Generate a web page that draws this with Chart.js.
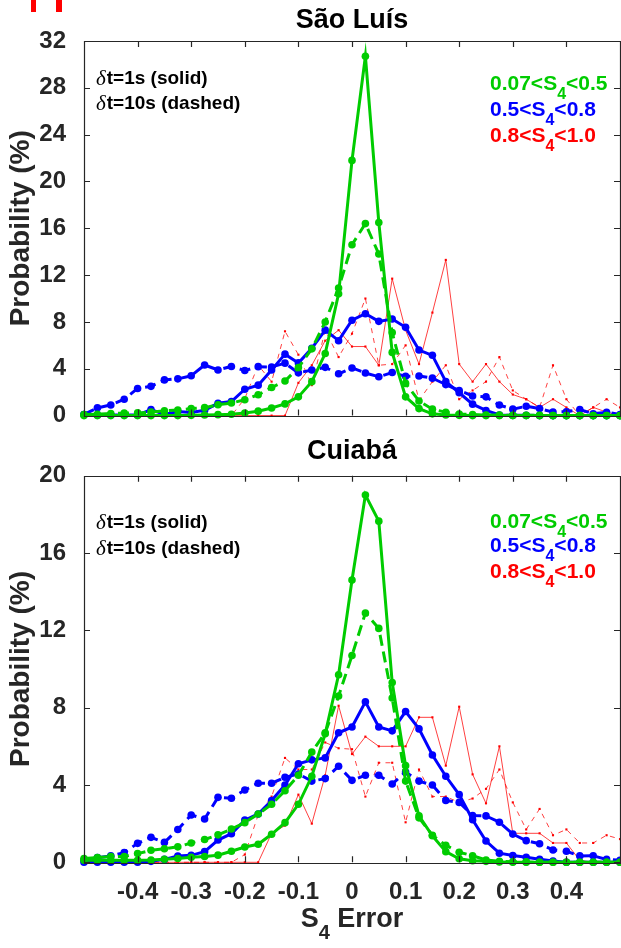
<!DOCTYPE html>
<html>
<head>
<meta charset="utf-8">
<title>S4 Error distributions</title>
<script src="https://cdn.jsdelivr.net/npm/chart.js@4.4.1/dist/chart.umd.min.js"></script>
<style>
    html, body { margin: 0; padding: 0; background: #fff; }
    body { width: 621px; height: 948px; overflow: hidden; position: relative; }
    .panel { position: absolute; left: 0; width: 624px; }
    #top-panel { top: 0; height: 440px; }
    #bottom-panel { top: 436px; height: 512px; }
</style>
</head>
<body>
<div class="panel" id="top-panel"><canvas id="chart-top" width="624" height="440"></canvas></div>
<div class="panel" id="bottom-panel"><canvas id="chart-bottom" width="624" height="512"></canvas></div>
<script>
'use strict';

// ***** DATA *****

let s4Error = [-0.5, -0.475, -0.45, -0.425, -0.4, -0.375, -0.35, -0.325, -0.3, -0.275,
    -0.25, -0.225, -0.2, -0.175, -0.15, -0.125, -0.1, -0.075, -0.05, -0.025,
    0, 0.025, 0.05, 0.075, 0.1, 0.125, 0.15, 0.175, 0.2, 0.225,
    0.25, 0.275, 0.3, 0.325, 0.35, 0.375, 0.4, 0.425, 0.45, 0.475, 0.5];

let xTickValues = [-0.4, -0.3, -0.2, -0.1, 0, 0.1, 0.2, 0.3, 0.4];
let saoLuisYTicks = [0, 4, 8, 12, 16, 20, 24, 28, 32];
let cuiabaYTicks = [0, 4, 8, 12, 16, 20];

// São Luís
let slGreen1s = [0, 0, 0, 0, 0, 0, 0, 0, 0.02, 0.05,
    0.08, 0.12, 0.22, 0.38, 0.65, 1.0, 1.6, 2.9, 5.3, 10.4,
    21.8, 30.7, 16.5, 5.4, 1.6, 0.6, 0.15, 0.05, 0.02, 0,
    0, 0, 0, 0, 0, 0, 0, 0, 0, 0, 0];
let slGreen10s = [0.1, 0.12, 0.17, 0.21, 0.23, 0.3, 0.4, 0.48, 0.6, 0.68,
    0.93, 1.07, 1.35, 1.78, 2.4, 2.95, 4.1, 5.7, 8.0, 10.9,
    14.6, 16.4, 13.8, 7.1, 2.75, 1.25, 0.55, 0.28, 0.14, 0.1,
    0.05, 0.05, 0.03, 0.02, 0.02, 0, 0, 0, 0, 0, 0];
let slBlue1s = [0.1, 0.05, 0.05, 0.05, 0.05, 0.52, 0.1, 0.35, 0.26, 0.45,
    1.05, 1.2, 2.25, 2.6, 3.9, 5.25, 4.5, 5.75, 7.3, 6.4,
    8.15, 8.7, 8.05, 8.25, 7.55, 5.6, 5.15, 2.9, 1.95, 0.98,
    0.44, 0.05, 0.02, 0.02, 0, 0, 0, 0, 0, 0, 0];
let slBlue10s = [0.1, 0.66, 0.91, 1.4, 2.32, 2.5, 3.05, 3.14, 3.4, 4.32,
    3.9, 4.2, 3.85, 4.18, 4.15, 4.48, 3.65, 3.9, 4.12, 3.57,
    4.07, 3.64, 3.32, 3.68, 3.36, 3.38, 3.2, 2.65, 2.15, 1.68,
    1.6, 0.9, 0.55, 0.8, 0.6, 0.3, 0.33, 0.52, 0.16, 0.28, 0.1];
let slRed1s = [0, 0, 0, 0, 0, 0, 0, 0, 0, 0,
    0, 0, 0, 0, 0, 0, 2.8, 4.3, 6.4, 7.3,
    5.9, 5.9, 4.3, 11.7, 7.3, 4.4, 8.8, 13.3, 4.4, 2.9,
    4.4, 2.9, 1.8, 1.4, 0.7, 1.4, 0.7, 0, 0.7, 0.3, 0];
let slRed10s = [0, 0, 0, 0, 0, 0, 0, 0, 0, 0,
    0, 0, 1.46, 4.3, 2.9, 7.2, 5.2, 2.6, 7.3, 5.0,
    7.0, 10.0, 4.3, 4.4, 6.0, 1.3, 2.9, 4.3, 1.4, 2.15,
    2.9, 5.0, 2.15, 1.4, 0.7, 4.3, 1.4, 0, 0.7, 1.4, 0.7];

// Cuiabá
let cbGreen1s = [0.1, 0.1, 0.1, 0.1, 0.1, 0.12, 0.16, 0.2, 0.26, 0.3,
    0.37, 0.57, 0.79, 0.93, 1.45, 2.05, 3.0, 4.45, 6.65, 9.7,
    14.6, 19.0, 17.65, 9.3, 5.0, 2.4, 1.37, 0.55, 0.18, 0.08,
    0.05, 0.02, 0, 0, 0, 0, 0, 0, 0, 0, 0];
let cbGreen10s = [0.2, 0.25, 0.3, 0.3, 0.45, 0.62, 0.7, 0.8, 1.0, 1.18,
    1.42, 1.72, 2.05, 2.5, 3.0, 3.7, 4.5, 5.7, 6.7, 8.6,
    10.7, 12.9, 12.1, 8.5, 4.2, 2.3, 1.4, 0.88, 0.52, 0.34,
    0.12, 0.05, 0.03, 0.02, 0, 0, 0, 0, 0, 0, 0];
let cbBlue1s = [0, 0, 0, 0, 0, 0.05, 0.15, 0.32, 0.36, 0.55,
    1.15, 1.48, 2.18, 2.5, 3.2, 4.0, 5.1, 5.3, 5.4, 6.7,
    7.0, 8.3, 7.0, 6.8, 7.8, 6.9, 5.55, 4.45, 3.5, 2.2,
    1.1, 0.47, 0.35, 0.26, 0.16, 0.07, 0, 0, 0, 0, 0];
let cbBlue10s = [0.12, 0.24, 0.33, 0.5, 0.98, 1.29, 1.03, 1.7, 2.45, 2.24,
    3.36, 3.31, 3.74, 4.09, 4.09, 4.4, 4.57, 4.2, 4.33, 4.97,
    4.24, 4.5, 4.5, 4.05, 4.67, 4.2, 4.0, 3.2, 3.1, 2.42,
    2.4, 2.07, 1.46, 1.12, 0.96, 0.64, 0.57, 0.33, 0.34, 0.15, 0.1];
let cbRed1s = [0, 0, 0, 0, 0, 0, 0, 0, 0, 0,
    0, 0, 0, 0, 1.5, 1.9, 3.5, 2.0, 4.5, 8.1,
    5.6, 6.5, 6.0, 6.0, 6.0, 7.5, 7.5, 5.0, 8.05, 4.55,
    3.05, 6.0, 1.5, 1.5, 1.5, 1.0, 1.0, 0.1, 0, 0, 0];
let cbRed10s = [0, 0, 0, 0, 0, 0, 0, 0, 0, 0,
    0, 0, 0.4, 2.45, 3.4, 5.4, 4.8, 4.8, 6.2, 5.9,
    5.85, 3.4, 5.15, 5.15, 2.07, 4.8, 3.4, 3.4, 3.1, 3.3,
    3.8, 4.8, 3.1, 1.7, 2.76, 1.4, 1.7, 1.0, 1.0, 1.4, 1.2];


// ***** STYLE *****

let fontFamily = '"Liberation Sans", Arial, Helvetica, sans-serif';
let axisColor = '#262626';
let green = 'rgb(0, 204, 0)';
let blue = 'rgb(0, 0, 255)';
let red = 'rgba(255, 0, 0, 0.75)';


// ***** HELPER FUNCTIONS *****

function toPoints(values) {
    let points = [];
    for (let i = 0; i < s4Error.length; i++) {
        points.push({ x: s4Error[i], y: values[i] });
    }
    return points;
}

function makeDataset(label, values, color, dashed, thin) {
    return {
        label: label,
        data: toPoints(values),
        borderColor: color,
        backgroundColor: color,
        borderWidth: thin ? 1 : 3,
        borderDash: dashed ? (thin ? [5, 5] : [11, 6]) : [],
        pointRadius: thin ? 1.5 : 3.8,
        pointStyle: thin ? 'rect' : 'circle',
        pointBorderWidth: 0,
        pointBackgroundColor: thin ? 'rgb(255, 0, 0)' : color,
        tension: 0,
        clip: false,
        order: thin ? 2 : (color === green ? 0 : 1)
    };
}

// draws text pieces, some of them lowered as a subscript
function drawPieces(ctx, x, y, pieces, size, color, align) {
    let total = 0;
    for (let p of pieces) {
        ctx.font = 'bold ' + (p.sub ? Math.round(size * 0.75) : size) + 'px ' + fontFamily;
        total += ctx.measureText(p.text).width;
    }
    let cx = align === 'center' ? x - total / 2 : x;
    ctx.fillStyle = color;
    ctx.textBaseline = 'middle';
    ctx.textAlign = 'left';
    for (let p of pieces) {
        ctx.font = 'bold ' + (p.sub ? Math.round(size * 0.75) : size) + 'px ' + fontFamily;
        ctx.fillText(p.text, cx, p.sub ? y + size * 0.5 : y);
        cx += ctx.measureText(p.text).width;
    }
}

function drawDeltaNote(ctx, x, y, rest) {
    ctx.textBaseline = 'middle';
    ctx.textAlign = 'left';
    ctx.fillStyle = '#000';
    ctx.font = 'italic 21px "Liberation Serif", serif';
    ctx.fillText('\u03b4', x, y);
    let w = ctx.measureText('\u03b4').width;
    ctx.font = 'bold 19px ' + fontFamily;
    ctx.fillText(rest, x + w + 1, y);
}

// box round the plot with inward tick marks, like the original figure
let framePlugin = {
    id: 'frame',
    afterDatasetsDraw(chart, args, opts) {
        let ctx = chart.ctx;
        let area = chart.chartArea;
        let xScale = chart.scales.x;
        let yScale = chart.scales.y;
        ctx.save();
        ctx.strokeStyle = axisColor;
        ctx.lineWidth = 1.2;
        ctx.beginPath();
        ctx.rect(Math.round(area.left) + 0.5, Math.round(area.top) + 0.5,
            Math.round(area.right - area.left), Math.round(area.bottom - area.top));
        for (let v of xTickValues) {
            let px = Math.round(xScale.getPixelForValue(v)) + 0.5;
            ctx.moveTo(px, area.bottom);
            ctx.lineTo(px, area.bottom - 6);
            ctx.moveTo(px, area.top);
            ctx.lineTo(px, area.top + 6);
        }
        for (let v of opts.yTicks) {
            let py = Math.round(yScale.getPixelForValue(v)) + 0.5;
            ctx.moveTo(area.left, py);
            ctx.lineTo(area.left + 6, py);
            ctx.moveTo(area.right, py);
            ctx.lineTo(area.right - 6, py);
        }
        ctx.stroke();
        ctx.restore();
    }
};

let notesPlugin = {
    id: 'notes',
    afterDraw(chart, args, opts) {
        let ctx = chart.ctx;
        ctx.save();
        drawDeltaNote(ctx, 96, opts.noteY[0], 't=1s (solid)');
        drawDeltaNote(ctx, 96, opts.noteY[1], 't=10s (dashed)');
        drawPieces(ctx, 490, opts.legendY[0], [{ text: '0.07<S' }, { text: '4', sub: true }, { text: '<0.5' }], 21, green, 'left');
        drawPieces(ctx, 490, opts.legendY[1], [{ text: '0.5<S' }, { text: '4', sub: true }, { text: '<0.8' }], 21, blue, 'left');
        drawPieces(ctx, 490, opts.legendY[2], [{ text: '0.8<S' }, { text: '4', sub: true }, { text: '<1.0' }], 21, 'rgb(255, 0, 0)', 'left');
        if (opts.xTitleY) {
            let area = chart.chartArea;
            drawPieces(ctx, (area.left + area.right) / 2, opts.xTitleY,
                [{ text: 'S' }, { text: '4', sub: true }, { text: ' Error' }], 27, axisColor, 'center');
        }
        if (opts.cornerMark) {
            ctx.fillStyle = 'rgb(255, 0, 0)';
            ctx.fillRect(31, 0, 5, 12);
            ctx.fillRect(56, 0, 6, 12);
        }
        ctx.restore();
    }
};

function makeChart(canvasId, panel) {
    let ctx = document.getElementById(canvasId);
    let chartObj = {
        type: 'line',
        data: {
            datasets: [
                makeDataset('0.07<S4<0.5 1s', panel.green1s, green, false, false),
                makeDataset('0.07<S4<0.5 10s', panel.green10s, green, true, false),
                makeDataset('0.5<S4<0.8 1s', panel.blue1s, blue, false, false),
                makeDataset('0.5<S4<0.8 10s', panel.blue10s, blue, true, false),
                makeDataset('0.8<S4<1.0 1s', panel.red1s, red, false, true),
                makeDataset('0.8<S4<1.0 10s', panel.red10s, red, true, true)
            ]
        },
        options: {
            responsive: false,
            animation: false,
            layout: { padding: 0 },
            scales: {
                x: {
                    type: 'linear',
                    min: -0.5,
                    max: 0.5,
                    grid: { display: false },
                    border: { display: false },
                    afterBuildTicks: axis => { axis.ticks = xTickValues.map(v => ({ value: v })); },
                    afterFit: axis => { axis.height = panel.xHeight; },
                    ticks: {
                        display: panel.showXLabels,
                        autoSkip: false,
                        maxRotation: 0,
                        padding: 8,
                        color: axisColor,
                        font: { family: fontFamily, size: 24, weight: 'bold' },
                        callback: value => (value === 0 ? '0' : value.toFixed(1))
                    }
                },
                y: {
                    min: 0,
                    max: panel.yTicks[panel.yTicks.length - 1],
                    grid: { display: false },
                    border: { display: false },
                    afterBuildTicks: axis => { axis.ticks = panel.yTicks.map(v => ({ value: v })); },
                    afterFit: axis => { axis.width = 84; },
                    ticks: {
                        padding: 10,
                        color: axisColor,
                        font: { family: fontFamily, size: 24, weight: 'bold' }
                    },
                    title: {
                        display: true,
                        text: 'Probability (%)',
                        color: axisColor,
                        padding: { top: 4, bottom: 0 },
                        font: { family: fontFamily, size: 28, weight: 'bold', lineHeight: 1.2 }
                    }
                }
            },
            plugins: {
                legend: { display: false },
                tooltip: { enabled: false },
                title: {
                    display: true,
                    fullSize: false,
                    text: panel.title,
                    color: '#000',
                    padding: panel.titlePadding,
                    font: { family: fontFamily, size: 27, weight: 'bold', lineHeight: 1.1 }
                },
                frame: { yTicks: panel.yTicks },
                notes: {
                    noteY: panel.noteY,
                    legendY: panel.legendY,
                    xTitleY: panel.xTitleY,
                    cornerMark: panel.cornerMark
                }
            }
        },
        plugins: [framePlugin, notesPlugin]
    };
    return new Chart(ctx, chartObj);
}


// ***** EXECUTABLE CODE *****

makeChart('chart-top', {
    title: 'São Luís',
    titlePadding: { top: 6, bottom: 5.3 },
    yTicks: saoLuisYTicks,
    xHeight: 13,
    showXLabels: false,
    noteY: [79, 104],
    legendY: [84, 110, 136],
    xTitleY: null,
    cornerMark: true,
    green1s: slGreen1s, green10s: slGreen10s,
    blue1s: slBlue1s, blue10s: slBlue10s,
    red1s: slRed1s, red10s: slRed10s
});

makeChart('chart-bottom', {
    title: 'Cuiabá',
    titlePadding: { top: 1, bottom: 9 },
    yTicks: cuiabaYTicks,
    xHeight: 85.7,
    showXLabels: true,
    noteY: [87, 113],
    legendY: [86, 110, 136],
    xTitleY: 484,
    cornerMark: false,
    green1s: cbGreen1s, green10s: cbGreen10s,
    blue1s: cbBlue1s, blue10s: cbBlue10s,
    red1s: cbRed1s, red10s: cbRed10s
});
</script>
</body>
</html>
